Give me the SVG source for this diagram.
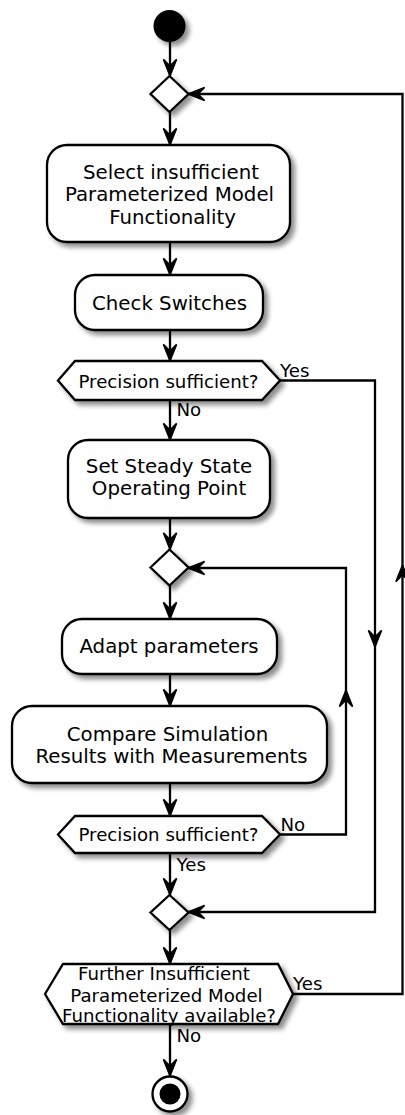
<svg xmlns="http://www.w3.org/2000/svg" xmlns:xlink="http://www.w3.org/1999/xlink" width="405" height="1115" viewBox="0 0 405 1115">
<style>
.n{fill:#fff;stroke:#000;stroke-width:2.3;filter:url(#sh)}
.t{font-family:"DejaVu Sans",Verdana,sans-serif;font-size:19.8px;fill:#000;text-anchor:middle}
.d{font-family:"DejaVu Sans",Verdana,sans-serif;font-size:18.2px;fill:#000;text-anchor:middle}
.l{font-family:"DejaVu Sans",Verdana,sans-serif;font-size:18.2px;fill:#000}
.c{fill:none;stroke:#000;stroke-width:2.3}
.a{fill:#000;stroke:#000;stroke-width:1.5;stroke-linejoin:miter}
</style>
<defs>
<filter id="sh" x="-20%" y="-20%" width="150%" height="160%">
<feGaussianBlur in="SourceAlpha" stdDeviation="2.5"/>
<feOffset dx="4" dy="4" result="o"/>
<feComponentTransfer><feFuncA type="linear" slope="0.45"/></feComponentTransfer>
<feMerge><feMergeNode/><feMergeNode in="SourceGraphic"/></feMerge>
</filter>
<path id="ah" class="a" d="M0,0 L-6.6,-16.6 L0,-10 L6.6,-16.6 Z"/>
</defs>
<g id="connectors">
<path class="c" d="M170,42 V76"/>
<path class="c" d="M170,112 V145"/>
<path class="c" d="M170,242 V275"/>
<path class="c" d="M170,330 V361"/>
<path class="c" d="M170,400 V440"/>
<path class="c" d="M170,518 V549.5"/>
<path class="c" d="M170,585.5 V619"/>
<path class="c" d="M170,674 V706"/>
<path class="c" d="M170,783 V816"/>
<path class="c" d="M170,853 V895"/>
<path class="c" d="M170,930 V964"/>
<path class="c" d="M170,1024 V1076"/>
<path class="c" d="M280,380.5 H375 V912 H188"/>
<path class="c" d="M280,834.5 H346 V568 H188"/>
<path class="c" d="M293,994 H402.5 V94 H188"/>
<use xlink:href="#ah" transform="translate(170,76)"/>
<use xlink:href="#ah" transform="translate(170,145)"/>
<use xlink:href="#ah" transform="translate(170,275)"/>
<use xlink:href="#ah" transform="translate(170,361)"/>
<use xlink:href="#ah" transform="translate(170,440)"/>
<use xlink:href="#ah" transform="translate(170,549.5)"/>
<use xlink:href="#ah" transform="translate(170,619)"/>
<use xlink:href="#ah" transform="translate(170,706)"/>
<use xlink:href="#ah" transform="translate(170,816)"/>
<use xlink:href="#ah" transform="translate(170,895)"/>
<use xlink:href="#ah" transform="translate(170,964)"/>
<use xlink:href="#ah" transform="translate(170,1076)"/>
<use xlink:href="#ah" transform="translate(375,647)"/>
<use xlink:href="#ah" transform="translate(346,690) rotate(180)"/>
<use xlink:href="#ah" transform="translate(402.5,565) rotate(180)"/>
<use xlink:href="#ah" transform="translate(188,94) rotate(90)"/>
<use xlink:href="#ah" transform="translate(188,568) rotate(90)"/>
<use xlink:href="#ah" transform="translate(188,912) rotate(90)"/>
<text class="l" x="280" y="376.5">Yes</text>
<text class="l" x="176.5" y="415.5">No</text>
<text class="l" x="280.5" y="830.5">No</text>
<text class="l" x="176.5" y="870.5">Yes</text>
<text class="l" x="293" y="990">Yes</text>
<text class="l" x="176.5" y="1041.5">No</text>
</g>
<g id="start"><circle cx="169.5" cy="26" r="16" fill="#000" filter="url(#sh)"/></g>
<g id="merge1"><path class="n" d="M169.5,76 L188.5,94 L169.5,112 L150.5,94 Z"/></g>
<g id="select">
<rect class="n" x="47" y="145" width="243" height="97" rx="20"/>
<text class="t" x="171" y="179">Select insufficient</text>
<text class="t" x="169.5" y="201.3">Parameterized Model</text>
<text class="t" x="172.5" y="223.5">Functionality</text>
</g>
<g id="check">
<rect class="n" x="75" y="275" width="188" height="55" rx="20"/>
<text class="t" x="169.5" y="310">Check Switches</text>
</g>
<g id="precision1">
<path class="n" d="M58,380.5 L75,361 L262,361 L280,380.5 L262,400 L75,400 Z"/>
<text class="d" x="168.5" y="388">Precision sufficient?</text>
</g>
<g id="steady">
<rect class="n" x="68" y="440" width="202" height="78" rx="20"/>
<text class="t" x="169" y="473.3">Set Steady State</text>
<text class="t" x="169" y="495">Operating Point</text>
</g>
<g id="merge2"><path class="n" d="M169.5,549.5 L188.5,567.5 L169.5,585.5 L150.5,567.5 Z"/></g>
<g id="adapt">
<rect class="n" x="62" y="619" width="215" height="55" rx="20"/>
<text class="t" x="169" y="652.7">Adapt parameters</text>
</g>
<g id="compare">
<rect class="n" x="12" y="706" width="315" height="77" rx="20"/>
<text class="t" x="167.5" y="740.7">Compare Simulation</text>
<text class="t" x="171.5" y="763.3">Results with Measurements</text>
</g>
<g id="precision2">
<path class="n" d="M58,834.5 L75,816 L262,816 L280,834.5 L262,853 L75,853 Z"/>
<text class="d" x="168.5" y="841">Precision sufficient?</text>
</g>
<g id="merge3"><path class="n" d="M169.5,895 L188.5,912.5 L169.5,930 L150.5,912.5 Z"/></g>
<g id="further">
<path class="n" d="M45,994 L63,964 L278,964 L293,994 L278,1024 L63,1024 Z"/>
<text class="d" x="164" y="980">Further Insufficient</text>
<text class="d" x="166.5" y="1001.5">Parameterized Model</text>
<text class="d" x="169" y="1021.7">Functionality available?</text>
</g>
<g id="end">
<circle class="n" cx="170" cy="1094" r="17.5"/>
<circle cx="170" cy="1094" r="10.5" fill="#000"/>
</g>
</svg>
